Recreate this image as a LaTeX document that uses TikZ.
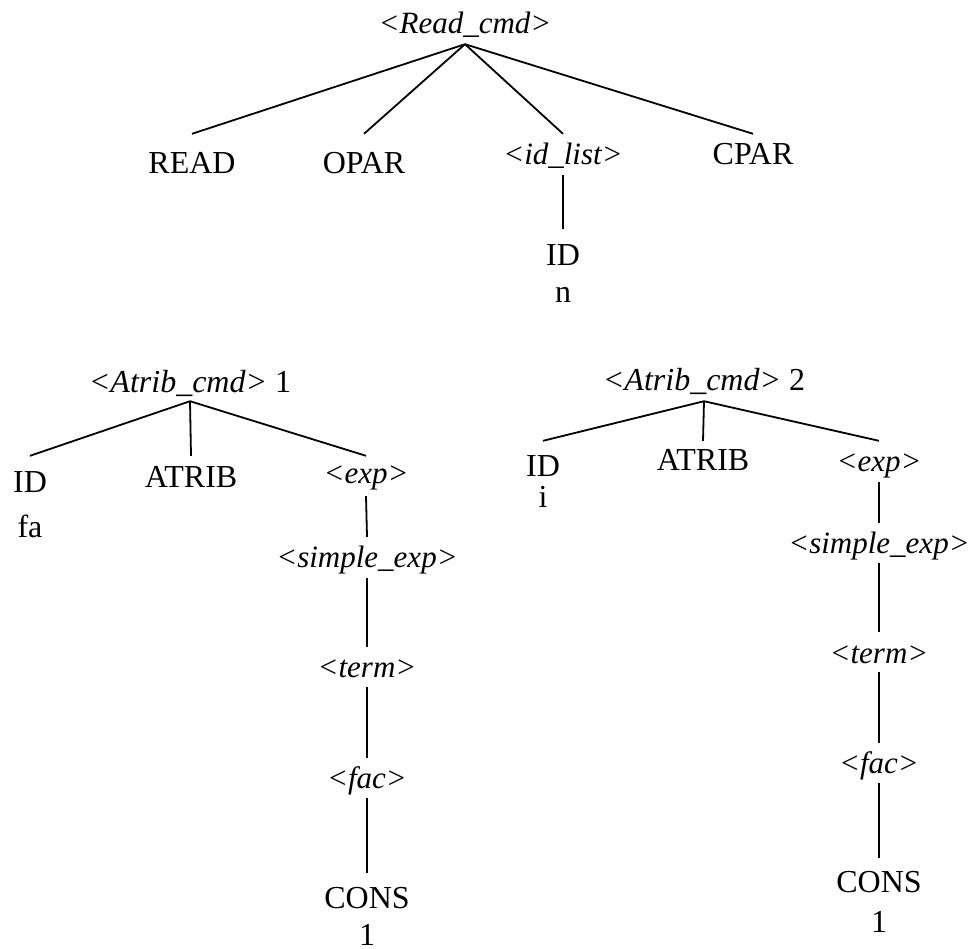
\documentclass[tikz,border=0pt]{standalone}
\usepackage{fontspec}
\setmainfont{Liberation Serif}
\begin{document}
\begin{tikzpicture}[x=1pt,y=-1pt,
  tok/.style={anchor=base,inner sep=0pt,text height=22pt,text depth=7pt,
    font=\fontsize{32pt}{38pt}\selectfont},
  nt/.style={tok,font=\fontsize{31pt}{38pt}\selectfont\itshape},
  leaf/.style={tok,text depth=0pt},
  edge/.style={line width=1.8pt}]
\useasboundingbox (0,0) rectangle (973,948);

% Read command
\node[nt]  (rc)    at (465,33)  {<Read\_cmd>};
\node[tok] (read)  at (192,173) {READ};
\node[tok] (opar)  at (364,173) {OPAR};
\node[nt]  (idl)   at (563,164) {<id\_list>};
\node[tok] (cpar)  at (753,164) {CPAR};
\node[tok] (idn)   at (563,265) {ID};
\node[tok] (nval)  at (563,302) {n};

\draw[edge] ([yshift=-4pt]rc.south) -- ([yshift=17pt]read.north);
\draw[edge] ([yshift=-4pt]rc.south) -- ([yshift=17pt]opar.north);
\draw[edge] ([yshift=-4pt]rc.south) -- ([yshift=8pt]idl.north);
\draw[edge] ([yshift=-4pt]rc.south) -- ([yshift=8pt]cpar.north);
\draw[edge] ([yshift=-4pt]idl.south) -- ([yshift=14pt]idn.north);

% Assignment 1
\node[tok] (a1)    at (190,392) {\textit{<Atrib\_cmd>} 1};
\node[tok] (id1)   at (30,492)  {ID};
\node[tok] (fa)    at (30,537)  {fa};
\node[tok] (at1)   at (191,487) {ATRIB};
\node[nt]  (exp1)  at (366,483) {<exp>};
\node[nt]  (sim1)  at (367,567) {<simple\_exp>};
\node[nt]  (ter1)  at (367,677) {<term>};
\node[nt]  (fac1)  at (367,788) {<fac>};
\node[tok] (con1)  at (367,908) {CONS};
\node[leaf] (one1) at (367,945) {1};

\draw[edge] ([yshift=-2pt]a1.south) -- ([yshift=14pt]id1.north);
\draw[edge] ([yshift=-2pt]a1.south) -- ([yshift=9pt]at1.north);
\draw[edge] ([yshift=-2pt]a1.south) -- ([yshift=5pt]exp1.north);
\draw[edge] ([yshift=-6pt]exp1.south) -- ([yshift=8pt]sim1.north);
\draw[edge] ([yshift=-4pt]sim1.south) -- ([yshift=8pt]ter1.north);
\draw[edge] ([yshift=-3pt]ter1.south) -- ([yshift=8pt]fac1.north);
\draw[edge] ([yshift=-3pt]fac1.south) -- ([yshift=13pt]con1.north);

% Assignment 2
\node[tok] (a2)    at (704,390) {\textit{<Atrib\_cmd>} 2};
\node[tok] (id2)   at (543,476) {ID};
\node[tok] (ival)  at (543,507) {i};
\node[tok] (at2)   at (703,470) {ATRIB};
\node[nt]  (exp2)  at (879,471) {<exp>};
\node[nt]  (sim2)  at (879,553) {<simple\_exp>};
\node[nt]  (ter2)  at (879,663) {<term>};
\node[nt]  (fac2)  at (879,773) {<fac>};
\node[tok] (con2)  at (879,892) {CONS};
\node[leaf] (one2) at (879,932) {1};

\draw[edge] ([yshift=-4pt]a2.south) -- ([yshift=13pt]id2.north);
\draw[edge] ([yshift=-4pt]a2.south) -- ([yshift=7pt]at2.north);
\draw[edge] ([yshift=-4pt]a2.south) -- ([yshift=8pt]exp2.north);
\draw[edge] ([yshift=-4pt]exp2.south) -- ([yshift=8pt]sim2.north);
\draw[edge] ([yshift=-3pt]sim2.south) -- ([yshift=9pt]ter2.north);
\draw[edge] ([yshift=-2pt]ter2.south) -- ([yshift=8pt]fac2.north);
\draw[edge] ([yshift=-3pt]fac2.south) -- ([yshift=12pt]con2.north);
\end{tikzpicture}
\end{document}
